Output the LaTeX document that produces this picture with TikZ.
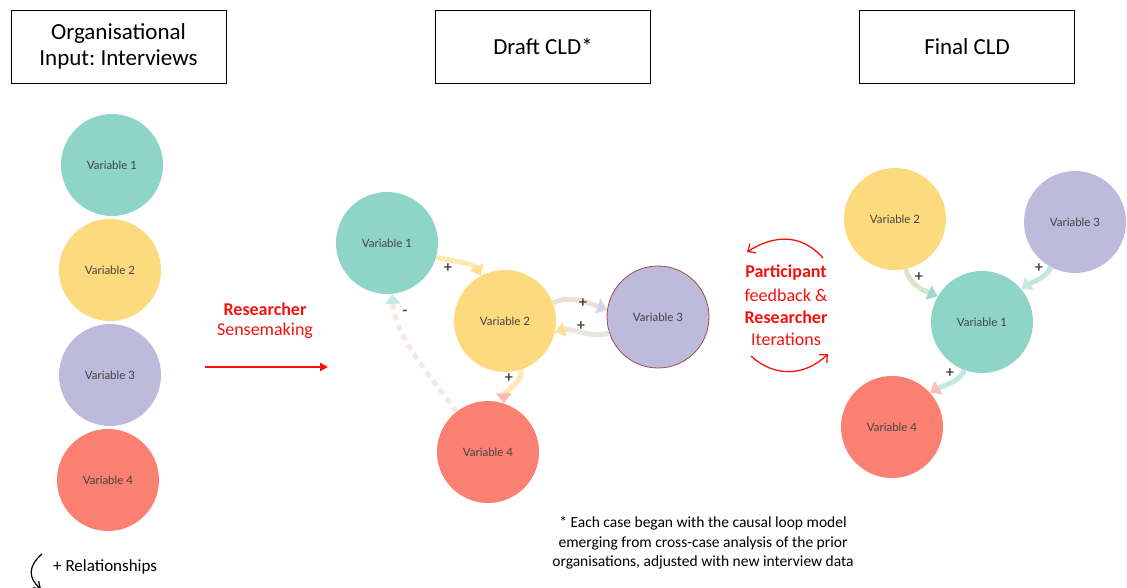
\documentclass[tikz,border=0pt]{standalone}
\usepackage{fontspec}
\setmainfont{Carlito}
\newfontfamily\varfont{Lato}
\frenchspacing
\usetikzlibrary{arrows.meta}
\definecolor{cteal}{HTML}{8ED4C7}
\definecolor{cyellow}{HTML}{FDDA7E}
\definecolor{cpurple}{HTML}{BDBADB}
\definecolor{cred}{HTML}{FA8072}
\definecolor{vtext}{HTML}{444444}
\definecolor{redtxt}{HTML}{F5120E}
\tikzset{
  titlebox/.style={draw=black, line width=0.8pt, minimum width=215pt, minimum height=73pt,
    align=center, font=\fontsize{23}{27}\selectfont, inner sep=2pt},
  var/.style={circle, fill=#1, minimum size=102pt, inner sep=0pt,
    font=\varfont\fontsize{11.5}{13}\selectfont, text=vtext},
  link/.style={line width=5pt, draw=#1, line cap=butt},
  head/.style={-{Triangle[width=15pt,length=10pt,color=#1]}},
  sign/.style={font=\varfont\bfseries\fontsize{15}{15}\selectfont, text=black!75, inner sep=0pt},
  redbold/.style={text=redtxt, font=\fontsize{18}{21}\selectfont\bfseries, inner sep=0pt},
  redtext/.style={text=redtxt, font=\fontsize{18}{21}\selectfont, inner sep=0pt},
}
\begin{document}
\begin{tikzpicture}[x=1pt,y=-1pt]
\path[use as bounding box] (0,0) rectangle (1127,588);

% stage headings
\node[titlebox] (t1) at (118.5,46.5) {Organisational\\[-1pt]Input: Interviews};
\node[titlebox] (t2) at (543,46.5) {Draft CLD*};
\node[titlebox] (t3) at (967,46.5) {Final CLD};

% organisational input: the variables
\node[var=cteal]   (a1) at (112,165) {Variable 1};
\node[var=cyellow] (a2) at (110,270) {Variable 2};
\node[var=cpurple] (a3) at (110,375) {Variable 3};
\node[var=cred]    (a4) at (108,480) {Variable 4};

\node[anchor=west, font=\fontsize{17}{20}\selectfont, inner sep=0pt] (rel) at (53,567) {+ Relationships};
\coordinate (r0) at (42,554);
\coordinate (r1) at (41,589);
\draw[line width=1.2pt, -{Straight Barb[length=6pt,width=9pt]}] (r0) .. controls (28,566) and (28,578) .. (r1);

% sensemaking step
\node[redbold] (s1) at (265,309) {Researcher};
\node[redtext] (s2) at (265,331) {Sensemaking};
\coordinate (sa) at (205,367);
\coordinate (sb) at (328,367);
\draw[redtxt, line width=2.2pt, -{Triangle[length=8pt,width=8pt]}] (sa) -- (sb);

% draft causal loop diagram
\node[var=cteal]   (d1) at (387,243) {Variable 1};
\node[var=cyellow] (d2) at (505,321) {Variable 2};
\node[var=cpurple, draw=red!45!black!70, line width=0.8pt] (d3) at (658,317) {Variable 3};
\node[var=cred]    (d4) at (488,452) {Variable 4};

\draw[link={cyellow!60}, head={cyellow!85}] (d1.-16) .. controls +(16,4) and +(-6,-12) .. (d2.118);
\draw[link={cyellow!45!cpurple!55}, head={cpurple!60}] (d2.20) .. controls +(14,-10) and +(-16,-6) .. (d3.172);
\draw[link={cyellow!35!cpurple!45}, head={cyellow!80}] (d3.-162) .. controls +(-16,6) and +(16,-4) .. (d2.-12);
\draw[link={cyellow!60}, head={cred!55}] (d2.-72) .. controls +(4,10) and +(0,-10) .. (d4.72);
\draw[link={cteal!45!cred!25}, dash pattern=on 6pt off 5pt, head={cteal!50}] (d4.128) .. controls +(-30,-40) and +(2,40) .. (d1.-84);

\node[sign] (p1) at (448,268) {+};
\node[sign] (p2) at (583,303) {+};
\node[sign] (p3) at (581,326) {+};
\node[sign] (p4) at (509,378) {+};
\node[sign] (m1) at (405,313) {-};

% iteration with participants
\node[redbold] (f1) at (786,273) {Participant};
\node[redtext] (f2) at (786,295) {feedback \&};
\node[redbold] (f3) at (786,317) {Researcher};
\node[redtext] (f4) at (786,339) {Iterations};
\coordinate (ua) at (823,258);
\coordinate (ub) at (747,252);
\coordinate (la) at (751,356);
\coordinate (lb) at (828,354);
\draw[redtxt, line width=1.3pt, -{Straight Barb[length=6pt,width=11pt]}] (ua) .. controls (800,232) and (772,236) .. (ub);
\draw[redtxt, line width=1.3pt, -{Straight Barb[length=6pt,width=11pt]}] (la) .. controls (775,378) and (805,376) .. (lb);

% final causal loop diagram
\node[var=cyellow] (g2) at (895,219) {Variable 2};
\node[var=cpurple] (g3) at (1075,222) {Variable 3};
\node[var=cteal]   (g1) at (982,322) {Variable 1};
\node[var=cred]    (g4) at (892,427) {Variable 4};

\draw[link={cyellow!40!cteal!60}, head={cteal!85}] (g2.-78) .. controls +(4,16) and +(-14,-6) .. (g1.150);
\draw[link={cteal!55}, head={cteal!50}] (g3.-118) .. controls +(-6,12) and +(12,-8) .. (g1.40);
\draw[link={cteal!55}, head={cred!50}] (g1.-110) .. controls +(-4,12) and +(10,-6) .. (g4.42);

\node[sign] (q1) at (919,277) {+};
\node[sign] (q2) at (1039,268) {+};
\node[sign] (q3) at (950,373) {+};

% note on the draft model
\node[align=center, font=\fontsize{15.5}{19.5}\selectfont, inner sep=0pt] (note) at (703,543)
  {* Each case began with the causal loop model\\emerging from cross-case analysis of the prior\\organisations, adjusted with new interview data};
\end{tikzpicture}
\end{document}
